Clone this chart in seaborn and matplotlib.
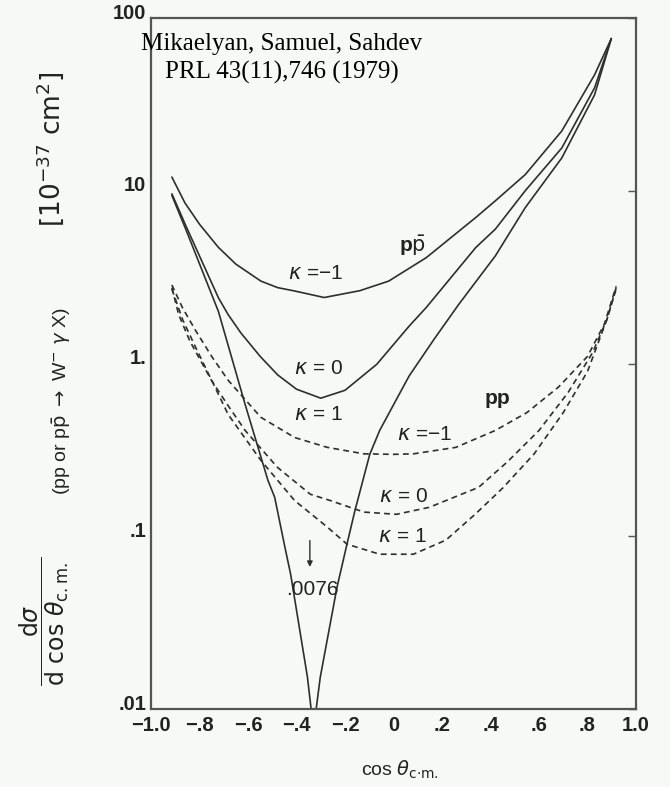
import matplotlib
matplotlib.use("Agg")
import matplotlib.pyplot as plt
import matplotlib.transforms as mtransforms
import seaborn as sns

# p pbar -> W- gamma X  (solid curves)
x_ppbar_m1 = [-0.914, -0.86, -0.80, -0.722, -0.65, -0.547, -0.478, -0.408, -0.286, -0.139, -0.02, 0.135, 0.339, 0.42, 0.543, 0.694, 0.829, 0.898]
y_ppbar_m1 = [12.0, 8.5, 6.4, 4.7, 3.76, 3.0, 2.75, 2.63, 2.41, 2.64, 3.0, 4.1, 7.0, 8.75, 12.4, 22.2, 46.9, 76.0]

x_ppbar_0 = [-0.914, -0.857, -0.816, -0.722, -0.682, -0.629, -0.55, -0.478, -0.40, -0.30, -0.20, -0.069, 0.065, 0.135, 0.339, 0.42, 0.543, 0.694, 0.829, 0.898]
y_ppbar_0 = [9.6, 6.3, 4.7, 2.4, 1.92, 1.5, 1.1, 0.86, 0.71, 0.63, 0.70, 0.99, 1.65, 2.11, 4.69, 6.0, 10.0, 17.7, 39.4, 76.0]

x_ppbar_p1 = [-0.914, -0.857, -0.816, -0.722, -0.612, -0.518, -0.49, -0.449, -0.424, -0.355, -0.33,
              -0.302, -0.233, -0.192, -0.159, -0.098, -0.057, 0.012, 0.065, 0.17, 0.269, 0.42, 0.543, 0.694, 0.829, 0.898]
y_ppbar_p1 = [9.4, 6.0, 4.3, 2.0, 0.58, 0.211, 0.168, 0.088, 0.060, 0.0153, 0.0076,
              0.0153, 0.0507, 0.090, 0.141, 0.298, 0.41, 0.62, 0.85, 1.4, 2.2, 4.2, 7.98, 15.5, 35.9, 76.0]

# p p -> W- gamma X  (dashed curves)
x_pp_m1 = [-0.914, -0.87, -0.816, -0.75, -0.682, -0.547, -0.408, -0.273, -0.122, 0.0, 0.082, 0.257, 0.42, 0.55, 0.68, 0.80, 0.87, 0.918]
y_pp_m1 = [2.85, 2.1, 1.55, 1.1, 0.80, 0.488, 0.373, 0.327, 0.30, 0.298, 0.30, 0.327, 0.41, 0.52, 0.73, 1.1, 1.7, 2.8]

x_pp_0 = [-0.914, -0.886, -0.84, -0.751, -0.682, -0.612, -0.478, -0.343, -0.261, -0.122, 0.012, 0.147, 0.351, 0.47, 0.60, 0.72, 0.82, 0.88, 0.918]
y_pp_0 = [2.75, 1.92, 1.35, 0.80, 0.57, 0.41, 0.25, 0.175, 0.161, 0.138, 0.134, 0.147, 0.192, 0.27, 0.41, 0.68, 1.15, 1.8, 2.75]

x_pp_p1 = [-0.914, -0.87, -0.816, -0.75, -0.682, -0.547, -0.408, -0.273, -0.192, -0.057, 0.082, 0.216, 0.339, 0.45, 0.58, 0.70, 0.80, 0.88, 0.918]
y_pp_p1 = [2.7, 1.8, 1.24, 0.80, 0.507, 0.275, 0.161, 0.113, 0.090, 0.0787, 0.0787, 0.095, 0.135, 0.19, 0.30, 0.52, 0.90, 1.8, 2.7]

x_ticks = [-1.0, -0.8, -0.6, -0.4, -0.2, 0.0, 0.2, 0.4, 0.6, 0.8, 1.0]
x_ticklabels = ["\u22121.0", "\u2212.8", "\u2212.6", "\u2212.4", "\u2212.2", "0", ".2", ".4", ".6", ".8", "1.0"]
y_ticks = [0.01, 0.1, 1, 10, 100]
y_ticklabels = [".01", ".1", "1.", "10", "100"]

sns.set_style("white")
plt.rcParams["font.family"] = ["Liberation Sans", "DejaVu Sans"]
plt.rcParams["mathtext.fontset"] = "dejavusans"

bg = "#f6f9f6"
ink = "#2e2e2e"
txt = "#222222"
fig = plt.figure(figsize=(6.7, 7.87), dpi=100, facecolor=bg)
ax = fig.add_axes([0.2254, 0.0991, 0.7239, 0.878])
ax.set_facecolor(bg)

dash = (0, (3.5, 2.5))
curves = [
    (x_ppbar_m1, y_ppbar_m1, "-"),
    (x_ppbar_0, y_ppbar_0, "-"),
    (x_ppbar_p1, y_ppbar_p1, "-"),
    (x_pp_m1, y_pp_m1, dash),
    (x_pp_0, y_pp_0, dash),
    (x_pp_p1, y_pp_p1, dash),
]
for xs, ys, ls in curves:
    sns.lineplot(x=xs, y=ys, ax=ax, color=ink, lw=1.2, linestyle=ls,
                 sort=False, estimator=None)

ax.set_yscale("log")
ax.set_xlim(-1, 1)
ax.set_ylim(0.01, 100)
ax.set_xticks(x_ticks)
ax.set_xticklabels(x_ticklabels)
ax.set_yticks(y_ticks)
ax.set_yticklabels(y_ticklabels)
ax.yaxis.set_minor_locator(matplotlib.ticker.NullLocator())
ax.tick_params(direction="in", length=6, width=1, color="#555555",
               labelsize=14.5, labelcolor=txt, right=True, top=False)
ax.tick_params(axis="x", pad=5)
for lab in ax.get_xticklabels() + ax.get_yticklabels():
    lab.set_fontweight("bold")
# y labels sit a little above their ticks, as in the scan
shift = mtransforms.ScaledTranslation(0, 5 / 72, fig.dpi_scale_trans)
for lab in ax.get_yticklabels():
    lab.set_transform(lab.get_transform() + shift)
for s in ax.spines.values():
    s.set_color("#555555")
    s.set_linewidth(1.6)

# curve labels
kw = dict(fontsize=15, color=txt, ha="center", va="center")
ax.text(-0.32, 3.3, "$\\kappa$ =\u22121", **kw)
ax.text(0.08, 4.8, "p$\\bar{\\mathrm{p}}$", fontweight="bold", **kw)
ax.text(-0.31, 0.94, "$\\kappa$ = 0", **kw)
ax.text(-0.31, 0.51, "$\\kappa$ = 1", **kw)
ax.text(0.43, 0.63, "pp", fontweight="bold", **kw)
ax.text(0.13, 0.39, "$\\kappa$ =\u22121", **kw)
ax.text(0.04, 0.17, "$\\kappa$ = 0", **kw)
ax.text(0.035, 0.10, "$\\kappa$ = 1", **kw)
ax.text(-0.335, 0.049, ".0076", **kw)
ax.annotate("", xy=(-0.345, 0.064), xytext=(-0.345, 0.098),
            arrowprops=dict(arrowstyle="-|>", color=ink, lw=1, mutation_scale=8))

ax.text(0.27, 0.978, "Mikaelyan, Samuel, Sahdev\nPRL 43(11),746 (1979)",
        transform=ax.transAxes, ha="center", va="top", fontsize=18,
        family="Liberation Serif", color="black", linespacing=1.3)

# axis labels
fig.text(0.597, 0.022, r"cos $\theta_{\mathrm{c{\cdot}m.}}$", ha="center", va="center",
         fontsize=14, color=txt)
fig.text(0.066, 0.21, r"$\dfrac{\mathrm{d}\sigma}{\mathrm{d}\ \mathrm{cos}\ \theta_{\mathrm{c.m.}}}$",
         rotation=90, ha="center", va="center", fontsize=17, color=txt)
fig.text(0.092, 0.49, r"(pp or p$\bar{\mathrm{p}}$ $\rightarrow$ W$^{-}$ $\gamma$ X)",
         rotation=90, ha="center", va="center", fontsize=14, color=txt)
fig.text(0.075, 0.81, r"$\left[10^{-37}\ \mathrm{cm}^{2}\right]$",
         rotation=90, ha="center", va="center", fontsize=19, color=txt)

fig.savefig("out.png", dpi=100, facecolor=bg)
